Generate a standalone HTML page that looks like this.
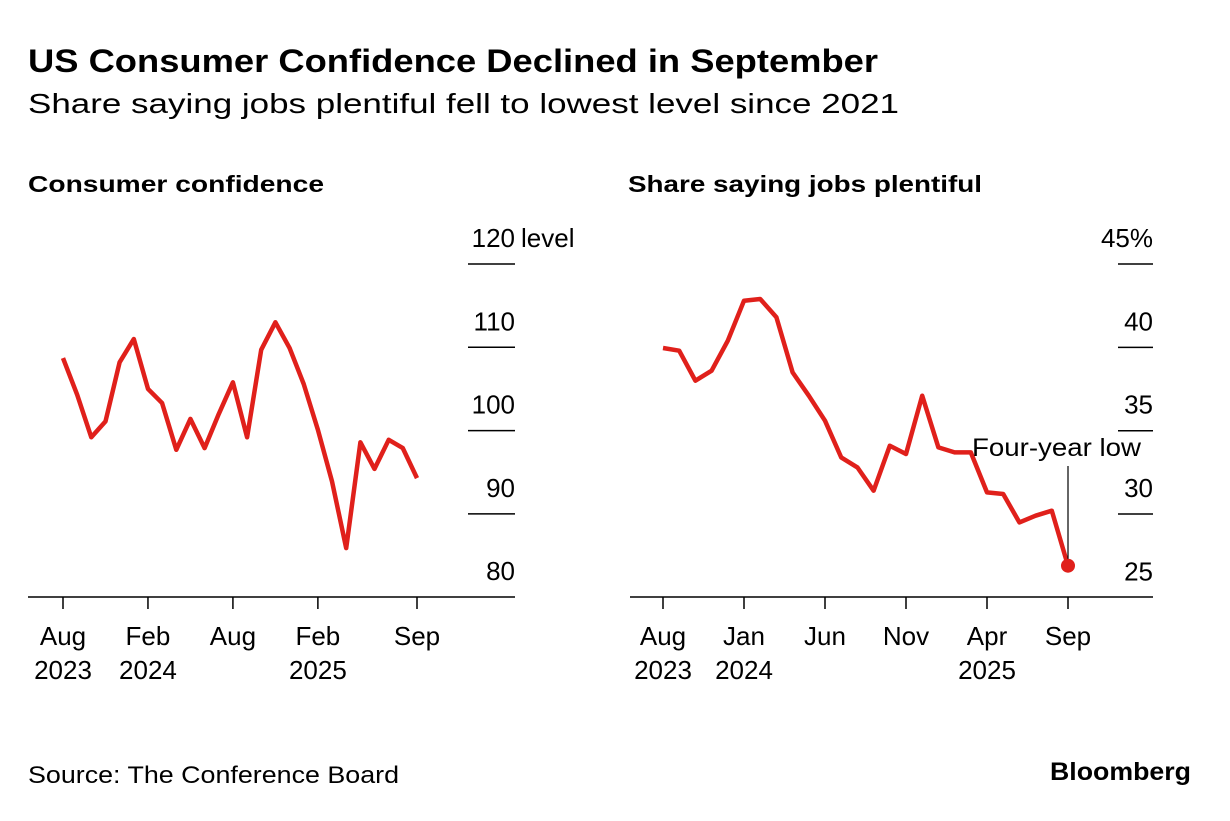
<!DOCTYPE html>
<html><head><meta charset="utf-8">
<style>
body{margin:0;background:#fff;font-family:"Liberation Sans",sans-serif;}
svg text{font-family:"Liberation Sans",sans-serif;}
</style></head>
<body>
<svg width="1230" height="816" viewBox="0 0 1230 816" id="fig">
<text x="28" y="72" font-size="32" font-weight="bold" fill="#000" textLength="850" lengthAdjust="spacingAndGlyphs">US Consumer Confidence Declined in September</text>
<text x="28" y="113" font-size="28" fill="#000" textLength="871" lengthAdjust="spacingAndGlyphs">Share saying jobs plentiful fell to lowest level since 2021</text>
<text x="28" y="192" font-size="23" font-weight="bold" textLength="296" lengthAdjust="spacingAndGlyphs">Consumer confidence</text>
<text x="628" y="192" font-size="23" font-weight="bold" textLength="354" lengthAdjust="spacingAndGlyphs">Share saying jobs plentiful</text>
<text x="28" y="783" font-size="24" textLength="371" lengthAdjust="spacingAndGlyphs">Source: The Conference Board</text>
<text x="1050" y="780" font-size="25" font-weight="bold" textLength="141" lengthAdjust="spacingAndGlyphs">Bloomberg</text>
<g id="left"></g>
<g id="right"></g>
</svg>
<script>
const leftValues=[108.7,104.3,99.2,101.1,108.2,111.0,105.0,103.3,97.7,101.4,97.9,102.0,105.8,99.2,109.7,113.0,109.9,105.6,100.1,93.9,85.9,98.6,95.4,98.9,97.9,94.3];
const leftTicks=[120,110,100,90,80];
const rightValues=[39.96,39.8,38.0,38.6,40.4,42.8,42.9,41.8,38.5,37.1,35.6,33.4,32.8,31.4,34.1,33.6,37.1,34.0,33.7,33.7,31.3,31.2,29.5,29.9,30.2,26.9];
const rightTicks=[45,40,35,30,25];
const leftXLabels=[[0,"Aug","2023"],[6,"Feb","2024"],[12,"Aug",""],[18,"Feb","2025"],[25,"Sep",""]];
const rightXLabels=[[0,"Aug","2023"],[5,"Jan","2024"],[10,"Jun",""],[15,"Nov",""],[20,"Apr","2025"],[25,"Sep",""]];
const NS="http://www.w3.org/2000/svg";
function mk(parent,tag,attrs){const e=document.createElementNS(NS,tag);for(const k in attrs)e.setAttribute(k,attrs[k]);parent.appendChild(e);return e;}
function panel(g,cfg){
  const xs=i=>cfg.x0+i*cfg.dx;
  const ys=v=>cfg.yTop+(cfg.vTop-v)*cfg.py;
  const ax=mk(g,'line',{x1:cfg.axL,x2:cfg.axR,y1:597,y2:597,stroke:'#000','stroke-width':1.5});
  
  
  cfg.ticks.forEach((t,i)=>{
    const y=ys(t);
    if(i<cfg.ticks.length-1){const l=mk(g,'line',{x1:cfg.gL,x2:cfg.gR,y1:y,y2:y,stroke:'#000','stroke-width':1.5});
    
    }
    const tx=mk(g,'text',{x:cfg.gR,y:y-17,'font-size':26,'text-anchor':'end'});
    tx.textContent=t+(i==0?cfg.topSuffix:'');
    
    
  });
  if(cfg.unitLabel){const u=mk(g,'text',{x:cfg.gR+6,y:ys(cfg.ticks[0])-17,'font-size':26});u.textContent=cfg.unitLabel;
    
    }
  cfg.xl.forEach(([i,a,b])=>{
    const x=xs(i);
    const tk=mk(g,'line',{x1:x,x2:x,y1:597,y2:609,stroke:'#000','stroke-width':1.5});
    
    
    const t1=mk(g,'text',{x:x,y:645,'font-size':26,'text-anchor':'middle'});t1.textContent=a;
    
    
    if(b){const t2=mk(g,'text',{x:x,y:679,'font-size':26,'text-anchor':'middle'});t2.textContent=b;
    
    }
  });
  const pts=cfg.vals.map((v,i)=>xs(i).toFixed(1)+','+ys(v).toFixed(1)).join(' ');
  const pl=mk(g,'polyline',{points:pts,fill:'none',stroke:'#e0201b','stroke-width':4.5,'stroke-linejoin':'round'});
  
  
  return {xs,ys};
}
const L=panel(document.getElementById('left'),{name:'left',x0:63,dx:14.16,yTop:264,vTop:120,py:8.33,ticks:leftTicks,vals:leftValues,axL:28,axR:515,gL:468,gR:515,topSuffix:'',unitLabel:'level',xl:leftXLabels});
const R=panel(document.getElementById('right'),{name:'right',x0:663,dx:16.2,yTop:264,vTop:45,py:16.67,ticks:rightTicks,vals:rightValues,axL:630,axR:1153,gL:1118,gR:1153,topSuffix:'%',unitLabel:'',xl:rightXLabels});
const rg=document.getElementById('right');
const last=rightValues.length-1;
const lx=R.xs(last),ly=R.ys(rightValues[last]);
const ln=mk(rg,'line',{x1:lx,x2:lx,y1:466,y2:ly,stroke:'#000','stroke-width':1.2});


const dot=mk(rg,'circle',{cx:lx,cy:ly,r:7,fill:'#e0201b'});


const at=mk(rg,'text',{x:972,y:456,'font-size':25,textLength:169,lengthAdjust:'spacingAndGlyphs'});
at.textContent='Four-year low';


</script>
</body></html>
